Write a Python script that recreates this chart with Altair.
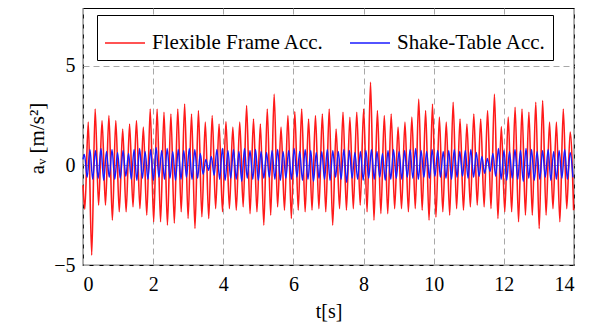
import altair as alt
import pandas as pd

SERIES = ["Flexible Frame Acc.", "Shake-Table Acc."]
COLORS = ["#ff1a1a", "#1a1aff"]

# --- Flexible frame acceleration: extrema ---
red_start = -1.0          # value at t = 0
red_first_trough = -2.2
red_t0 = 0.052            # time of first trough [s]
red_half = 0.09815        # half period between extrema [s]
red_peaks = [2.17, 2.83, 2.25, 2.5, 2.25, 1.83, 2.08, 2.25, 1.92, 2.83,
             2.83, 2.67, 2.58, 2.83, 3.08, 2.58, 2.75, 2.17, 2.5, 2.08,
             2.2,
             1.92, 2.17, 3.0, 2.33, 2.08, 2.83, 3.58, 1.92, 2.5,
             2.7,
             2.83, 2.33, 2.5, 2.58, 2.83, 1.83, 2.67, 2.42, 2.67,
             2.83,
             4.17, 2.75, 2.5, 2.58, 1.92, 2.17, 2.42, 3.33, 2.75,
             3.08,
             2.42, 2.17, 3.17, 2.33, 2.08, 2.58, 2.33, 2.75, 3.58,
             1.95,
             2.42, 2.92, 2.83, 2.67, 3.17, 3.25, 2.17, 2.17, 2.83, 1.67]
red_troughs = [-4.5, -2.0, -2.0, -2.75, -2.33, -2.33, -2.08, -2.17, -2.5, -2.83,
               -2.83, -3.0, -2.9, -2.33, -2.67, -3.17, -2.58, -2.67, -2.17, -2.33,
               -2.17,
               -2.25, -2.08, -2.42, -2.33, -3.0, -2.5, -2.08, -2.25, -2.67,
               -2.25,
               -2.33, -2.25, -2.17, -2.33, -3.0, -2.17, -2.25, -2.17, -2.0,
               -2.33,
               -2.75, -2.42, -2.42, -2.17, -2.17, -2.33, -2.17, -2.25, -2.75,
               -2.6,
               -2.33, -2.5, -2.17, -2.25, -2.08, -2.0, -2.08, -2.17, -2.67,
               -2.33,
               -2.33, -2.83, -2.5, -2.5, -3.17, -2.5, -2.17, -2.83, -2.17, -2.25]

# --- Shake-table acceleration: extrema ---
blue_start = 0.3
blue_t0 = 0.04
blue_half = 0.0787
blue_peaks = [0.55, 0.80, 0.75, 0.85, 0.70, 0.80, 0.65, 0.75, 0.60, 0.80,
              0.85, 0.70, 0.80, 0.90, 0.75, 0.85, 0.70, 0.80, 0.75, 0.85,
              0.80, 0.60, 0.30, 0.45, 0.80, 0.85, 0.75, 0.80, 0.70, 0.85,
              0.75, 0.80, 0.70, 0.65, 0.75, 0.80, 0.70, 0.75, 0.85, 0.70,
              0.80, 0.75, 0.65, 0.70, 0.80, 0.75, 0.70, 0.80, 0.75, 0.65,
              0.70, 0.75, 0.80, 0.70, 0.60, 0.75, 0.80, 0.70, 0.75, 0.80,
              0.85, 0.75, 0.70, 0.80, 0.75, 0.70, 0.75, 0.80, 0.70, 0.75,
              0.80, 0.65, 0.45, 0.35, 0.60, 0.85, 0.75, 0.70, 0.80, 0.75,
              0.85, 0.80, 0.70, 0.75, 0.80, 0.70, 0.75, 0.80, 0.65]
blue_troughs = [-0.60, -0.70, -0.65, -0.75, -0.60, -0.70, -0.65, -0.55, -0.70, -0.75,
                -0.65, -0.70, -0.75, -0.60, -0.70, -0.65, -0.75, -0.70, -0.60, -0.70,
                -0.65, -0.45, -0.25, -0.50, -0.70, -0.75, -0.65, -0.70, -0.80, -0.65,
                -0.70, -0.75, -0.65, -0.60, -0.70, -0.75, -0.65, -0.70, -0.60, -0.75,
                -0.70, -0.80, -0.65, -0.70, -0.75, -0.60, -0.70, -0.85, -0.65, -0.70,
                -0.75, -0.65, -0.70, -0.60, -0.75, -0.70, -0.65, -0.70, -0.60, -0.65,
                -0.70, -0.60, -0.65, -0.55, -0.60, -0.65, -0.70, -0.60, -0.55, -0.65,
                -0.60, -0.55, -0.40, -0.30, -0.55, -0.70, -0.75, -0.65, -0.70, -0.80,
                -0.65, -0.75, -0.70, -0.60, -0.75, -0.70, -0.65, -0.70, -0.60]

X_TICKS = [0, 2, 4, 6, 8, 10, 12, 14]
Y_TICKS = [-5, 0, 5]

rows = []
# red series
red_vals = [red_first_trough]
for p, q in zip(red_peaks, red_troughs):
    red_vals += [p, q]
rows.append({"t": 0.0, "a": red_start, "s": SERIES[0]})
for j, v in enumerate(red_vals):
    rows.append({"t": red_t0 + red_half * j, "a": v, "s": SERIES[0]})
# blue series
blue_vals = []
for p, q in zip(blue_peaks, blue_troughs):
    blue_vals += [p, q]
rows.append({"t": 0.0, "a": blue_start, "s": SERIES[1]})
for j, v in enumerate(blue_vals):
    rows.append({"t": blue_t0 + blue_half * j, "a": v, "s": SERIES[1]})

df = pd.DataFrame(rows)
df = df[df["t"] <= 14.0]

FONT = "Liberation Serif"

x = alt.X("t:Q", scale=alt.Scale(domain=[0, 14], nice=False, zero=False),
          axis=alt.Axis(values=X_TICKS, title="t[s]", titleY=52,
                        titleBaseline="alphabetic", labelPadding=9))
y = alt.Y("a:Q", scale=alt.Scale(domain=[-5, 7.9], nice=False, zero=False),
          axis=alt.Axis(values=Y_TICKS, title="aᵥ [m/s²]", titleX=-46, titleY=130,
                        titleAngle=270, titleAlign="center", titleBaseline="middle",
                        titleFontSize=21, labelPadding=8))
color = alt.Color("s:N", scale=alt.Scale(domain=SERIES, range=COLORS),
                  legend=alt.Legend(orient="none", legendX=14, legendY=7,
                                    direction="horizontal", columns=2, title=None,
                                    symbolType="stroke", symbolSize=1600,
                                    symbolStrokeWidth=1.5, labelFont=FONT,
                                    labelFontSize=21, labelLimit=400, labelColor="black",
                                    labelOffset=6, columnPadding=22, padding=7,
                                    strokeColor="black", fillColor="white"))

red_layer = alt.Chart(df).transform_filter(alt.datum.s == SERIES[0]).mark_line(
    interpolate="monotone", strokeWidth=1.6).encode(x=x, y=y, color=color)
blue_layer = alt.Chart(df).transform_filter(alt.datum.s == SERIES[1]).mark_line(
    interpolate="monotone", strokeWidth=1.4).encode(x=x, y=y, color=color)

chart = alt.layer(red_layer, blue_layer).properties(
    width=491, height=257,
    autosize=alt.AutoSizeParams(type="none"),
    padding={"left": 75, "top": 0, "right": 12, "bottom": 62},
).configure_view(stroke="black", strokeWidth=1.2
).configure_axis(
    labelFont=FONT, labelFontSize=20, labelColor="black",
    titleFont=FONT, titleFontSize=20, titleFontWeight="normal", titleColor="black",
    ticks=False, domain=False,
    grid=True, gridColor="#a8a8a8", gridDash=[6, 4], gridWidth=1,
)

chart.save("out.html", embed_options={"renderer": "svg", "actions": False})
